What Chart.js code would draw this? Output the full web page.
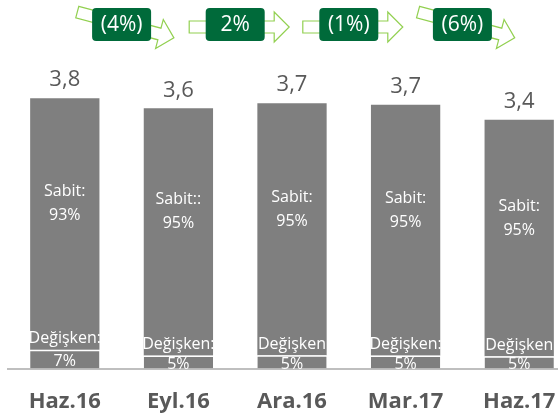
<!DOCTYPE html>
<html>
<head>
<meta charset="utf-8">
<script src="https://cdn.jsdelivr.net/npm/chart.js@4/dist/chart.umd.min.js"></script>
<style>
  html, body { margin: 0; padding: 0; background: #fff; overflow: hidden; }
  #wrap { position: relative; width: 576px; height: 416px; }
</style>
</head>
<body>
<div id="wrap"><canvas id="chart"></canvas></div>
<script>
// data
const categories = ['Haz.16', 'Eyl.16', 'Ara.16', 'Mar.17', 'Haz.17'];
const totals = [3.75, 3.61, 3.68, 3.66, 3.45];
const totalLabels = ['3,8', '3,6', '3,7', '3,7', '3,4'];
const fixedShare = [93, 95, 95, 95, 95];
const variableShare = [7, 5, 5, 5, 5];
const fixedNames = ['Sabit:', 'Sabit::', 'Sabit:', 'Sabit:', 'Sabit:'];
const variableNames = ['Değişken:', 'Değişken:', 'Değişken', 'Değişken:', 'Değişken'];
const changeLabels = ['(4%)', '2%', '(1%)', '(6%)'];

// arrow tilt per change box (radians), purely decorative
const arrowTilt = [0.26, 0, 0, 0.26];

const variableValues = totals.map((t, i) => t * variableShare[i] / 100);
const fixedValues = totals.map((t, i) => t * fixedShare[i] / 100);

const FONT = "'Open Sans', sans-serif";
const GREY = '#595959';

function drawArrow(ctx, cx, cy, angle){
    const L = 100, hl = 15, sh = 6, hh = 15;
    ctx.save();
    ctx.translate(cx, cy);
    ctx.rotate(angle);
    ctx.beginPath();
    ctx.moveTo(-L/2, -sh);
    ctx.lineTo(L/2 - hl, -sh);
    ctx.lineTo(L/2 - hl, -hh);
    ctx.lineTo(L/2, 0);
    ctx.lineTo(L/2 - hl, hh);
    ctx.lineTo(L/2 - hl, sh);
    ctx.lineTo(-L/2, sh);
    ctx.closePath();
    ctx.fillStyle = '#ffffff';
    ctx.fill();
    ctx.strokeStyle = '#92D050';
    ctx.lineWidth = 1.2;
    ctx.stroke();
    ctx.restore();
}

function roundRect(ctx, x, y, w, h, r){
    ctx.beginPath();
    ctx.moveTo(x + r, y);
    ctx.lineTo(x + w - r, y);
    ctx.quadraticCurveTo(x + w, y, x + w, y + r);
    ctx.lineTo(x + w, y + h - r);
    ctx.quadraticCurveTo(x + w, y + h, x + w - r, y + h);
    ctx.lineTo(x + r, y + h);
    ctx.quadraticCurveTo(x, y + h, x, y + h - r);
    ctx.lineTo(x, y + r);
    ctx.quadraticCurveTo(x, y, x + r, y);
    ctx.closePath();
}

const labelPlugin = {
    id: 'labels',
    afterDatasetsDraw(chart){
        const ctx = chart.ctx;
        const varMeta = chart.getDatasetMeta(0);
        const fixMeta = chart.getDatasetMeta(1);
        ctx.save();
        ctx.textAlign = 'center';
        ctx.textBaseline = 'middle';
        for(let i = 0; i < categories.length; i++){
            const vb = varMeta.data[i], fb = fixMeta.data[i];
            // total on top
            ctx.fillStyle = GREY;
            ctx.font = '22px ' + FONT;
            ctx.fillText(totalLabels[i], fb.x, fb.y - 18);
            // fixed part
            ctx.fillStyle = '#ffffff';
            ctx.font = '16px ' + FONT;
            const mid = (fb.y + fb.base) / 2 - 20;
            ctx.fillText(fixedNames[i], fb.x, mid - 12);
            ctx.fillText(fixedShare[i] + '%', fb.x, mid + 12);
            // variable part
            ctx.fillText(variableNames[i], vb.x, vb.y - 11);
            ctx.fillText(variableShare[i] + '%', vb.x, (vb.y + vb.base) / 2 + 2);
        }
        ctx.restore();
    },
    afterDraw(chart){
        const ctx = chart.ctx;
        const x = chart.scales.x;
        ctx.save();
        for(let i = 0; i < changeLabels.length; i++){
            const cx = (x.getPixelForValue(i) + x.getPixelForValue(i + 1)) / 2;
            const tilt = arrowTilt[i];
            drawArrow(ctx, cx + 4, tilt ? 25 : 27, tilt);
            roundRect(ctx, cx - 29.5, 8, 59, 33, 4);
            ctx.fillStyle = '#006A3A';
            ctx.fill();
            ctx.fillStyle = '#ffffff';
            ctx.font = '21px ' + FONT;
            ctx.textAlign = 'center';
            ctx.textBaseline = 'middle';
            ctx.fillText(changeLabels[i], cx, 25);
        }
        ctx.restore();
    }
};

new Chart(document.getElementById('chart'), {
    type: 'bar',
    data: {
        labels: categories,
        datasets: [{
            label: 'Değişken',
            data: variableValues,
            backgroundColor: '#7F7F7F',
            borderColor: '#ffffff',
            borderWidth: {top: 1.5, right: 0, bottom: 0, left: 0},
            borderSkipped: false,
            barPercentage: 0.61,
            categoryPercentage: 1
        }, {
            label: 'Sabit',
            data: fixedValues,
            backgroundColor: '#7F7F7F',
            borderWidth: 0,
            barPercentage: 0.61,
            categoryPercentage: 1
        }]
    },
    options: {
        responsive: true,
        maintainAspectRatio: false,
        animation: false,
        layout: { padding: { top: 8, left: 8, right: 0, bottom: -19 } },
        scales: {
            x: {
                stacked: true,
                grid: { display: false, drawTicks: false },
                border: { display: true, color: '#BFBFBF', width: 2 },
                ticks: {
                    color: GREY,
                    padding: 20,
                    font: { family: FONT, size: 22, weight: 'bold' }
                }
            },
            y: {
                stacked: true,
                display: false,
                min: 0,
                max: 5
            }
        },
        plugins: {
            legend: { display: false },
            tooltip: { enabled: false }
        }
    },
    plugins: [labelPlugin]
});
</script>
</body>
</html>
